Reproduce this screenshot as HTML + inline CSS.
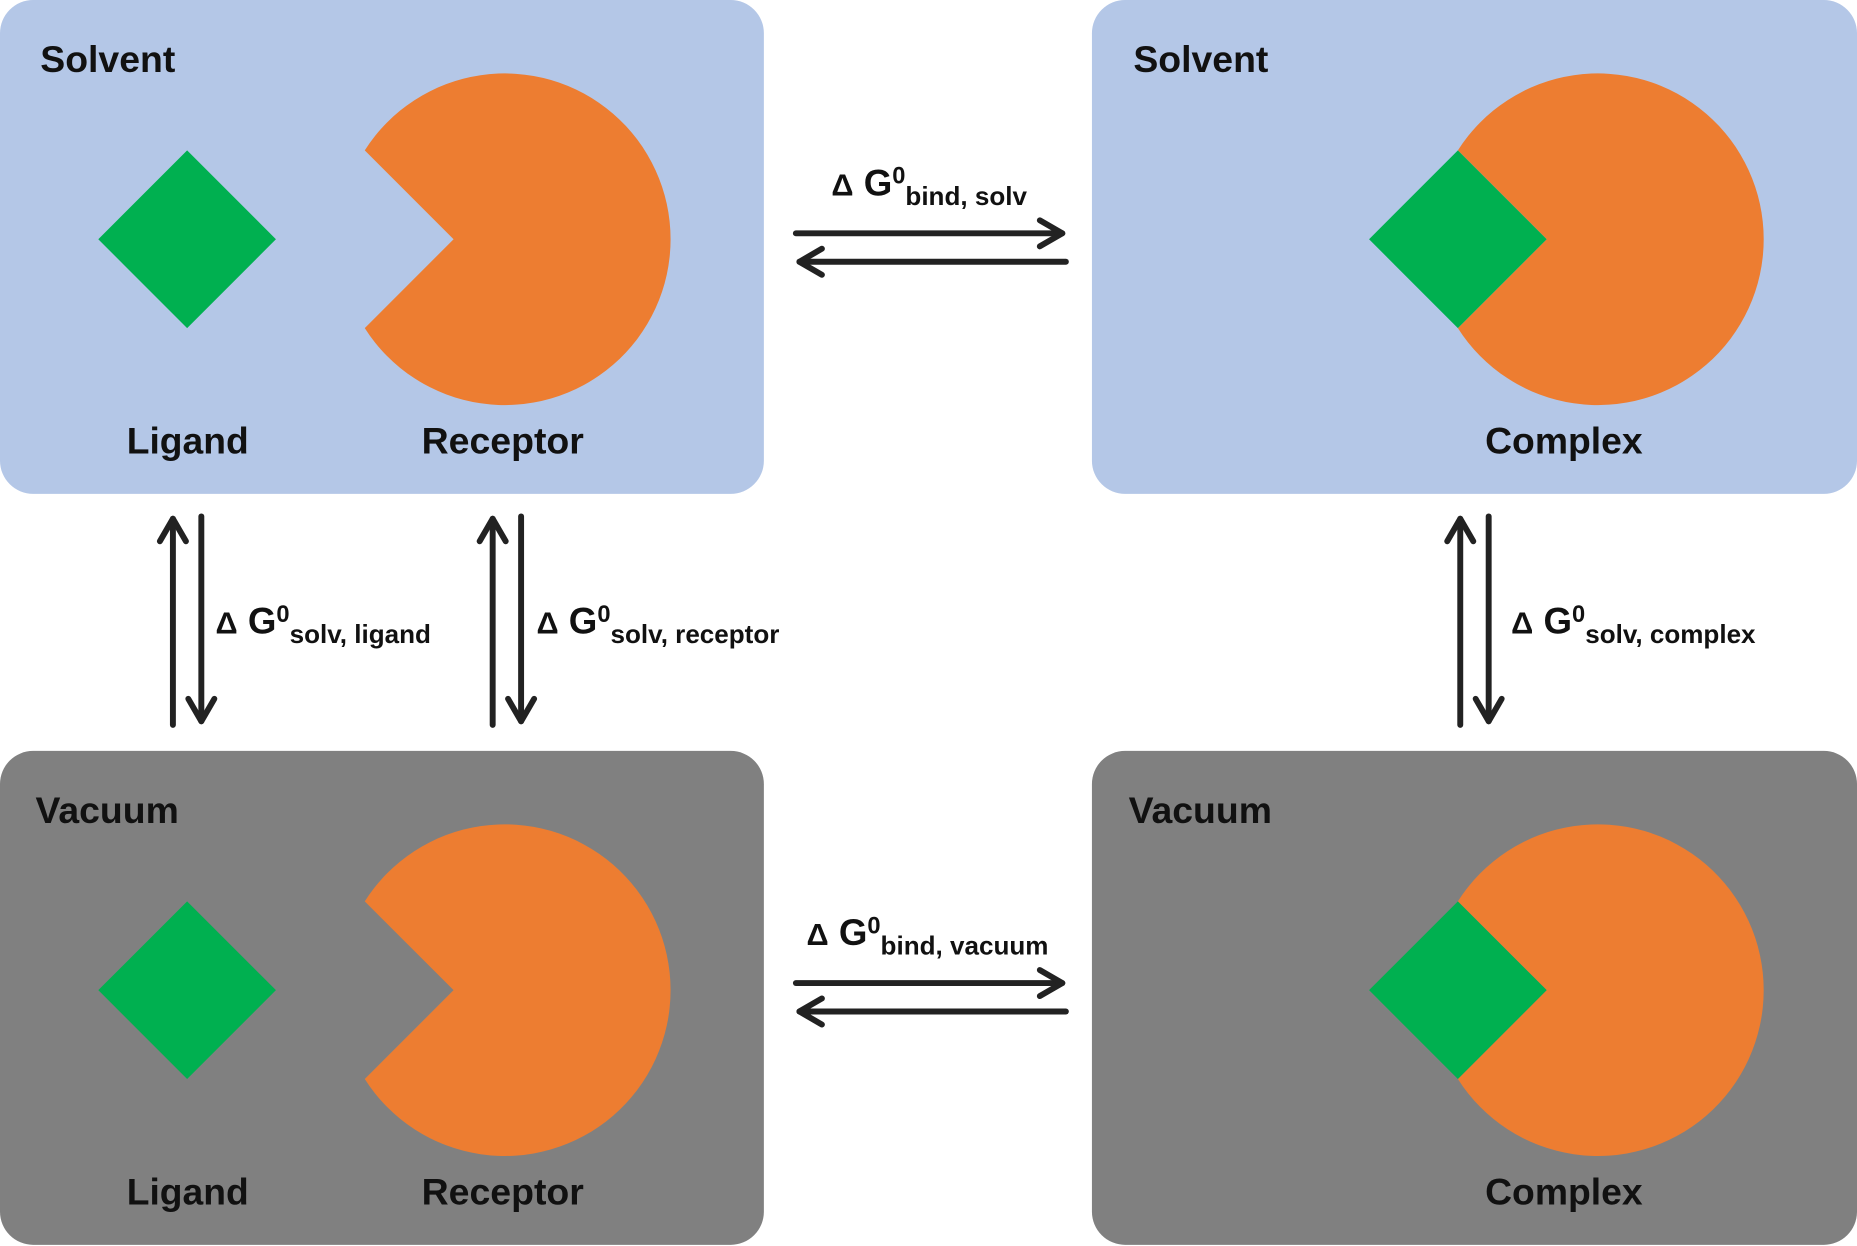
<!DOCTYPE html>
<html><head><meta charset="utf-8"><style>
html,body{margin:0;padding:0;background:#fff;}
svg{display:block;}
text{font-family:"Liberation Sans",Arial,sans-serif;font-weight:bold;fill:#111;}
</style></head><body>
<svg width="1857" height="1246" viewBox="0 0 1568 1052" preserveAspectRatio="none" xmlns="http://www.w3.org/2000/svg">
<defs>
<g id="pac"><path d="M308,127 A140,140 0 1 1 308,277 L383,202 Z" fill="#ed7d31"/></g>
<g id="dia"><path d="M158,127 L233,202 L158,277 L83,202 Z" fill="#00b050"/></g>
</defs>
<rect x="0" y="0" width="645" height="417" rx="28" fill="#b4c7e7"/>
<rect x="922" y="0" width="646" height="417" rx="28" fill="#b4c7e7"/>
<rect x="0" y="634" width="645" height="417" rx="28" fill="#808080"/>
<rect x="922" y="634" width="646" height="417" rx="28" fill="#808080"/>

<use href="#pac"/><use href="#dia"/>
<use href="#pac" transform="translate(0,634)"/><use href="#dia" transform="translate(0,634)"/>
<use href="#pac" transform="translate(923,0)"/><use href="#dia" transform="translate(1073,0)"/>
<use href="#pac" transform="translate(923,634)"/><use href="#dia" transform="translate(1073,634)"/>

<g font-size="31">
<text x="34" y="61" textLength="114" lengthAdjust="spacingAndGlyphs">Solvent</text>
<text x="957" y="61" textLength="114" lengthAdjust="spacingAndGlyphs">Solvent</text>
<text x="30" y="695" textLength="121" lengthAdjust="spacingAndGlyphs">Vacuum</text>
<text x="953" y="695" textLength="121" lengthAdjust="spacingAndGlyphs">Vacuum</text>
<text x="107" y="383" textLength="103" lengthAdjust="spacingAndGlyphs">Ligand</text>
<text x="356" y="383" textLength="137" lengthAdjust="spacingAndGlyphs">Receptor</text>
<text x="1254" y="383" textLength="133" lengthAdjust="spacingAndGlyphs">Complex</text>
<text x="107" y="1017" textLength="103" lengthAdjust="spacingAndGlyphs">Ligand</text>
<text x="356" y="1017" textLength="137" lengthAdjust="spacingAndGlyphs">Receptor</text>
<text x="1254" y="1017" textLength="133" lengthAdjust="spacingAndGlyphs">Complex</text>
</g>

<g stroke="#222" stroke-width="5" fill="none" stroke-linecap="round" stroke-linejoin="round">
<line x1="672" y1="197" x2="897" y2="197"/><polyline points="878,186 897,197 878,208"/>
<line x1="900" y1="221" x2="675" y2="221"/><polyline points="694,210 675,221 694,232"/>
<line x1="672" y1="830" x2="897" y2="830"/><polyline points="878,819 897,830 878,841"/>
<line x1="900" y1="854" x2="675" y2="854"/><polyline points="694,843 675,854 694,865"/>
<line x1="146" y1="612" x2="146" y2="438"/><polyline points="135,457 146,438 157,457"/>
<line x1="170" y1="436" x2="170" y2="609"/><polyline points="159,590 170,609 181,590"/>
<line x1="416" y1="612" x2="416" y2="438"/><polyline points="405,457 416,438 427,457"/>
<line x1="440" y1="436" x2="440" y2="609"/><polyline points="429,590 440,609 451,590"/>
<line x1="1233" y1="612" x2="1233" y2="438"/><polyline points="1222,457 1233,438 1244,457"/>
<line x1="1257" y1="436" x2="1257" y2="609"/><polyline points="1246,590 1257,609 1268,590"/>
</g>

<g>
<text x="702" y="165" font-size="31"><tspan font-size="26">Δ</tspan> G<tspan font-size="20" dy="-10">0</tspan><tspan font-size="22" dy="18">bind, solv</tspan></text>
<text x="681" y="798" font-size="31"><tspan font-size="26">Δ</tspan> G<tspan font-size="20" dy="-10">0</tspan><tspan font-size="22" dy="18">bind, vacuum</tspan></text>
<text x="182" y="535" font-size="31"><tspan font-size="26">Δ</tspan> G<tspan font-size="20" dy="-10">0</tspan><tspan font-size="22" dy="18">solv, ligand</tspan></text>
<text x="453" y="535" font-size="31"><tspan font-size="26">Δ</tspan> G<tspan font-size="20" dy="-10">0</tspan><tspan font-size="22" dy="18">solv, receptor</tspan></text>
<text x="1276" y="535" font-size="31"><tspan font-size="26">Δ</tspan> G<tspan font-size="20" dy="-10">0</tspan><tspan font-size="22" dy="18">solv, complex</tspan></text>
</g>
</svg>
</body></html>
